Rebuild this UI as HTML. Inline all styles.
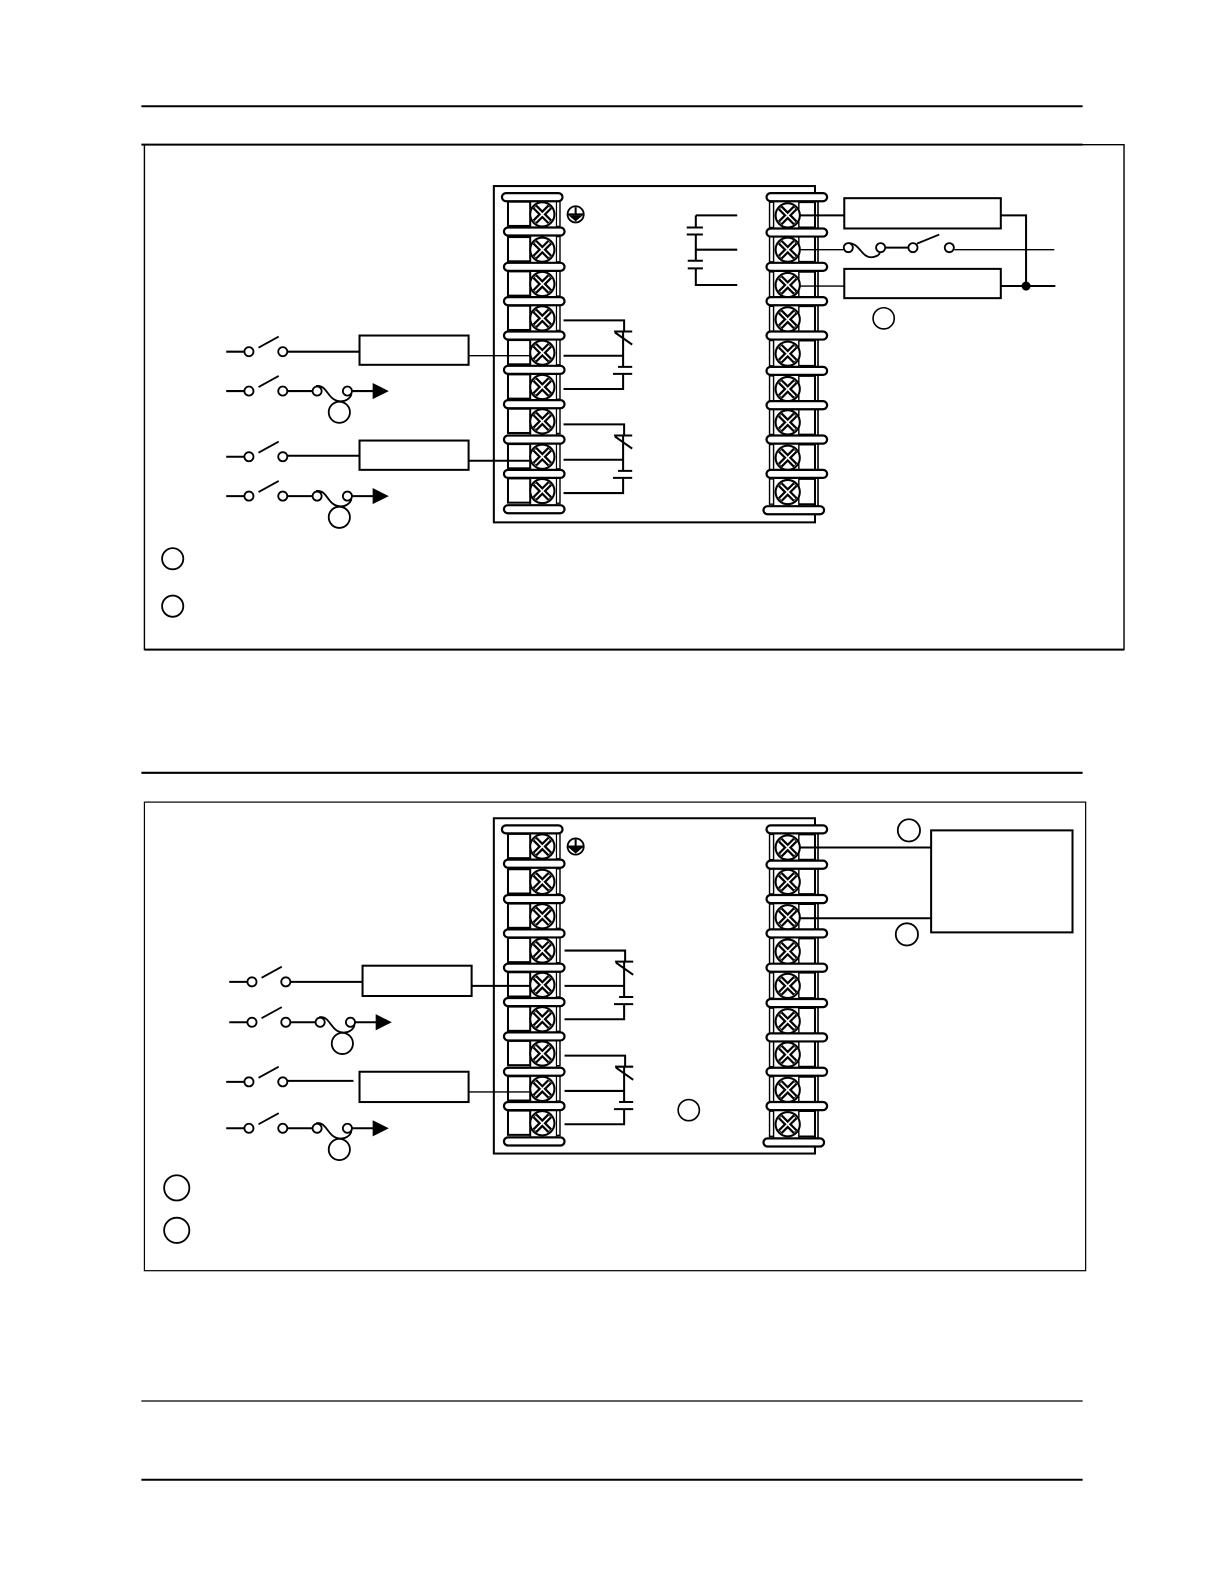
<!DOCTYPE html>
<html><head><meta charset="utf-8"><style>
html,body{margin:0;padding:0;background:#fff}
svg{display:block}
</style></head><body>
<svg xmlns="http://www.w3.org/2000/svg" width="1224" height="1584" viewBox="0 0 1212 1568" fill="none" stroke="#000" stroke-width="1.6">
<defs>
<g id="screw"><circle r="12" fill="#fff" stroke-width="2"/><path d="M-7.5-7.5L7.5 7.5M-7.5 7.5L7.5-7.5" stroke-width="6"/><path d="M-7-7L7 7M-7 7L7-7" stroke="#fff" stroke-width="1.6"/></g>
<g id="bar"><rect x="0" y="-4" width="60" height="8" rx="4" fill="#fff" stroke-width="2.2"/></g>
<g id="lc"><rect x="503" y="-12.5" width="22" height="24" fill="#fff" stroke-width="2"/><path d="M525-14V14" stroke-width="1.4"/><path d="M551-13H554.5V12H551" stroke-width="1.4"/><path d="M551-14V14" stroke-width="1.2"/><use href="#screw" x="537"/></g>
<g id="rc"><path d="M766-13H762V12H766" stroke-width="1.4"/><path d="M766-14V14" stroke-width="1.4"/><path d="M791-13H808M791 12H808" stroke-width="1.8"/><path d="M791-14V14" stroke-width="1.4"/><path d="M810-14V14" stroke-width="1.6"/><use href="#screw" x="780"/></g>
<g id="blockcols">
<use href="#lc" y="212"/><use href="#lc" y="247"/><use href="#lc" y="281"/><use href="#lc" y="315"/><use href="#lc" y="349"/><use href="#lc" y="383"/><use href="#lc" y="417"/><use href="#lc" y="452"/><use href="#lc" y="486"/>
<use href="#rc" y="213"/><use href="#rc" y="247"/><use href="#rc" y="282"/><use href="#rc" y="316"/><use href="#rc" y="350"/><use href="#rc" y="385"/><use href="#rc" y="418"/><use href="#rc" y="453"/><use href="#rc" y="487"/>
<use href="#bar" x="497" y="195"/><use href="#bar" x="499" y="229"/><use href="#bar" x="499" y="264"/><use href="#bar" x="499" y="298"/><use href="#bar" x="499" y="332"/><use href="#bar" x="499" y="366"/><use href="#bar" x="499" y="400"/><use href="#bar" x="499" y="435"/><use href="#bar" x="499" y="469"/><use href="#bar" x="499" y="504"/>
<use href="#bar" x="759" y="195"/><use href="#bar" x="759" y="230"/><use href="#bar" x="759" y="264"/><use href="#bar" x="759" y="298"/><use href="#bar" x="759" y="332"/><use href="#bar" x="759" y="367"/><use href="#bar" x="759" y="401"/><use href="#bar" x="759" y="435"/><use href="#bar" x="759" y="469"/><use href="#bar" x="756" y="505"/>
<circle cx="570" cy="212" r="8" stroke-width="1.8"/><path d="M570 205V212M562 212H578" stroke-width="2"/><path d="M563 213H577L570 219Z" fill="#000" stroke="none"/>
</g>
<g id="contacts"><path d="M558 0H618V11M608 11H626M609 12L626 24M617 11V46M612 46H626M558 35H618M607 53H626M617 53V68M558 68H618" stroke-width="2"/></g>
<g id="sw"><path d="M0 0H18" stroke-width="2"/><circle cx="22.5" r="4.5" stroke-width="1.8"/><path d="M32-4L52-15" stroke-width="1.8"/><circle cx="56" r="4.5" stroke-width="1.8"/></g>
<g id="fuse"><use href="#sw"/><path d="M61 0H85" stroke-width="2"/><circle cx="90" r="4.5" stroke-width="1.8"/><path d="M89-5C100-7 100 9 112 10C118 11 123 7 124 3" stroke-width="1.8"/><circle cx="120" r="4.5" stroke-width="1.8"/><path d="M125 0H146" stroke-width="2"/><path d="M145-8L161 0L145 8Z" fill="#000" stroke="none"/><circle cx="112" cy="21" r="10.5" stroke-width="1.8"/></g>
</defs>
<path d="M140 105H1072M140 143H1072M140 765H1072" stroke-width="2"/>
<path d="M140 1387H1072" stroke-width="1.2"/><path d="M140 1465H1072" stroke-width="2"/>
<path d="M143 143H1113V643H143Z" stroke-width="1.4"/><path d="M143 643H1113" stroke-width="2"/>
<rect x="143" y="794" width="932" height="464" stroke-width="1.2"/>

<!-- top diagram -->
<rect x="489" y="184" width="318" height="333" stroke-width="2"/>
<use href="#blockcols"/>
<use href="#contacts" y="317"/><use href="#contacts" y="420"/>
<path d="M689 213H730M689 213V225M680 225H696M680 232H696M689 232V258M689 247H730M681 258H696M681 265.5H696M689 265.5V282H730" stroke-width="2"/>
<rect x="836" y="196" width="155" height="30" stroke-width="2"/><rect x="836" y="266" width="155" height="29" stroke-width="2"/>
<path d="M792 213H836M991 213H1016V283M991 283H1045" stroke-width="2"/>
<path d="M792 283H836M792 247H835M945 247H1044" stroke-width="1.4"/>
<circle cx="840" cy="245" r="4.5" stroke-width="1.8"/><path d="M840 240.5C851 240 853 255 863 254.5C868 254 871 252 871 250" stroke-width="1.8"/><circle cx="872" cy="245" r="4.5" stroke-width="1.8"/><path d="M877 245H899" stroke-width="2"/><circle cx="904" cy="245" r="4.5" stroke-width="1.8"/><path d="M908 241L930 232" stroke-width="1.8"/><circle cx="940" cy="245" r="4.5" stroke-width="1.8"/>
<circle cx="1016" cy="283" r="4.5" fill="#000" stroke="none"/>
<circle cx="875" cy="315" r="10.5" stroke-width="1.6"/>
<use href="#sw" x="224" y="348"/><path d="M285 348H356" stroke-width="2"/><rect x="356" y="332" width="108" height="29" stroke-width="2"/><path d="M464 352H525" stroke-width="1.4"/>
<use href="#fuse" x="224" y="387"/>
<use href="#sw" x="224" y="452"/><path d="M285 451H356" stroke-width="2"/><rect x="356" y="436" width="108" height="29" stroke-width="2"/><path d="M464 456H525" stroke-width="2"/>
<use href="#fuse" x="224" y="491"/>
<circle cx="171" cy="553" r="10.5" stroke-width="1.8"/><circle cx="171" cy="600" r="10.5" stroke-width="1.8"/>

<!-- bottom diagram -->
<rect x="489" y="810" width="318" height="332" stroke-width="2"/>
<use href="#blockcols" y="626"/>
<use href="#contacts" y="941" x="1"/><use href="#contacts" y="1045" x="1"/>
<rect x="922" y="822" width="140" height="101" stroke-width="2"/>
<path d="M792 839H922M792 909H922" stroke-width="2"/>
<circle cx="900" cy="822" r="11" stroke-width="1.8"/><circle cx="898" cy="925" r="11" stroke-width="1.8"/>
<circle cx="682" cy="1099" r="10.5" stroke-width="1.6"/>
<use href="#sw" x="227" y="972"/><path d="M288 972H359" stroke-width="2"/><rect x="359" y="956" width="108" height="30" stroke-width="2"/><path d="M467 976H525" stroke-width="2"/>
<use href="#fuse" x="227" y="1012"/>
<use href="#sw" x="224" y="1071"/><path d="M285 1070H350" stroke-width="2"/><rect x="356" y="1061" width="108" height="30" stroke-width="2"/><path d="M464 1081H525" stroke-width="1.4"/>
<use href="#fuse" x="224" y="1117"/>
<circle cx="175" cy="1176" r="12.5" stroke-width="1.8"/><circle cx="175" cy="1218" r="12.5" stroke-width="1.8"/>
</svg>
</body></html>
